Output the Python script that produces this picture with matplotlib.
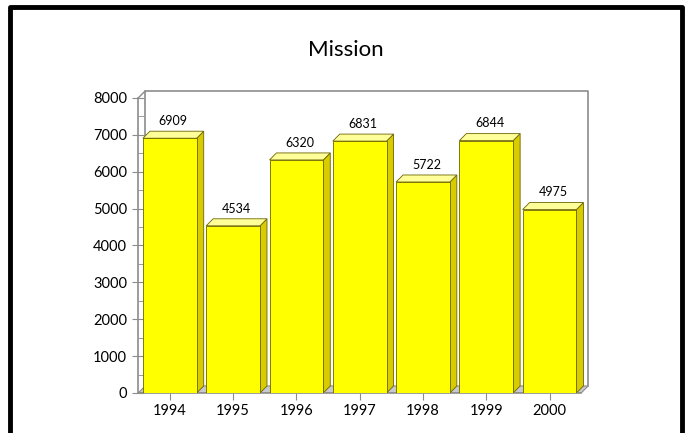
import matplotlib.pyplot as plt
from matplotlib.patches import Polygon
from matplotlib.lines import Line2D

plt.rcParams['font.family'] = ['Lato', 'DejaVu Sans']

years = ['1994', '1995', '1996', '1997', '1998', '1999', '2000']
values = [6909, 4534, 6320, 6831, 5722, 6844, 4975]

fig = plt.figure(figsize=(6.91, 4.33), dpi=100)
ax = fig.add_axes([0.2, 0.0924, 0.653, 0.6813])

w = 0.85          # bar width
dx = 0.11         # depth in x data units
dy = 190          # depth in y data units
front = '#ffff00'
top = '#ffff99'
side = '#d8cc00'
edge = '#6b6400'
grey = '#8c8c8c'

# back wall and floor
ax.plot([-0.5 + dx, -0.5 + dx, 6.5 + dx, 6.5 + dx],
        [dy, 8000 + dy, 8000 + dy, dy], color=grey, lw=1.2, zorder=1,
        clip_on=False)
ax.add_patch(Polygon([(-0.5, 0), (6.5, 0), (6.5 + dx, dy), (-0.5 + dx, dy)],
                     closed=True, fc='#c8c8d0', ec=grey, lw=0.8, zorder=1))
ax.plot([-0.5, -0.5 + dx], [8000, 8000 + dy], color=grey, lw=1.0, zorder=1,
        clip_on=False)

for i, v in enumerate(values):
    x0, x1 = i - w / 2, i + w / 2
    ax.add_patch(Polygon([(x1, 0), (x1 + dx, dy), (x1 + dx, v + dy), (x1, v)],
                         closed=True, fc=side, ec=edge, lw=0.6, zorder=2))
    ax.add_patch(Polygon([(x0, v), (x1, v), (x1 + dx, v + dy), (x0 + dx, v + dy)],
                         closed=True, fc=top, ec=edge, lw=0.6, zorder=2))
    ax.add_patch(Polygon([(x0, 0), (x1, 0), (x1, v), (x0, v)],
                         closed=True, fc=front, ec=edge, lw=0.6, zorder=3))
    ax.annotate(str(v), (i + dx / 2, v + dy), xytext=(0, 3),
                textcoords='offset points', ha='center', va='bottom',
                fontsize=9, color='black')

ax.set_xlim(-0.5, 6.5 + dx + 0.02)
ax.set_ylim(0, 8000)
ax.set_xticks(range(len(years)))
ax.set_xticklabels(years)
ax.set_yticks(range(0, 8001, 1000))
ax.set_yticks(range(500, 8000, 1000), minor=True)
for s in ['top', 'right']:
    ax.spines[s].set_visible(False)
for s in ['left', 'bottom']:
    ax.spines[s].set_color(grey)
    ax.spines[s].set_linewidth(1.2)
ax.spines['bottom'].set_bounds(-0.5, 6.5)
ax.tick_params(axis='y', which='major', direction='inout', length=8,
               color=grey, labelsize=10.5, pad=4)
ax.tick_params(axis='y', which='minor', direction='in', length=4, color=grey)
ax.tick_params(axis='x', direction='out', length=5, color=grey,
               labelsize=10.5, pad=3)
for lab in ax.get_xticklabels() + ax.get_yticklabels():
    lab.set_color('black')
ax.patch.set_visible(False)

fig.text(0.5, 0.885, 'Mission', ha='center', va='center', fontsize=16,
         color='black')

# thick frame around the chart (open at the bottom)
fig.add_artist(Line2D([0.0145, 0.0145, 0.9875, 0.9875],
                      [0.0, 0.983, 0.983, 0.0], color='black', lw=3.5,
                      transform=fig.transFigure))

fig.savefig('out.png', dpi=100)
